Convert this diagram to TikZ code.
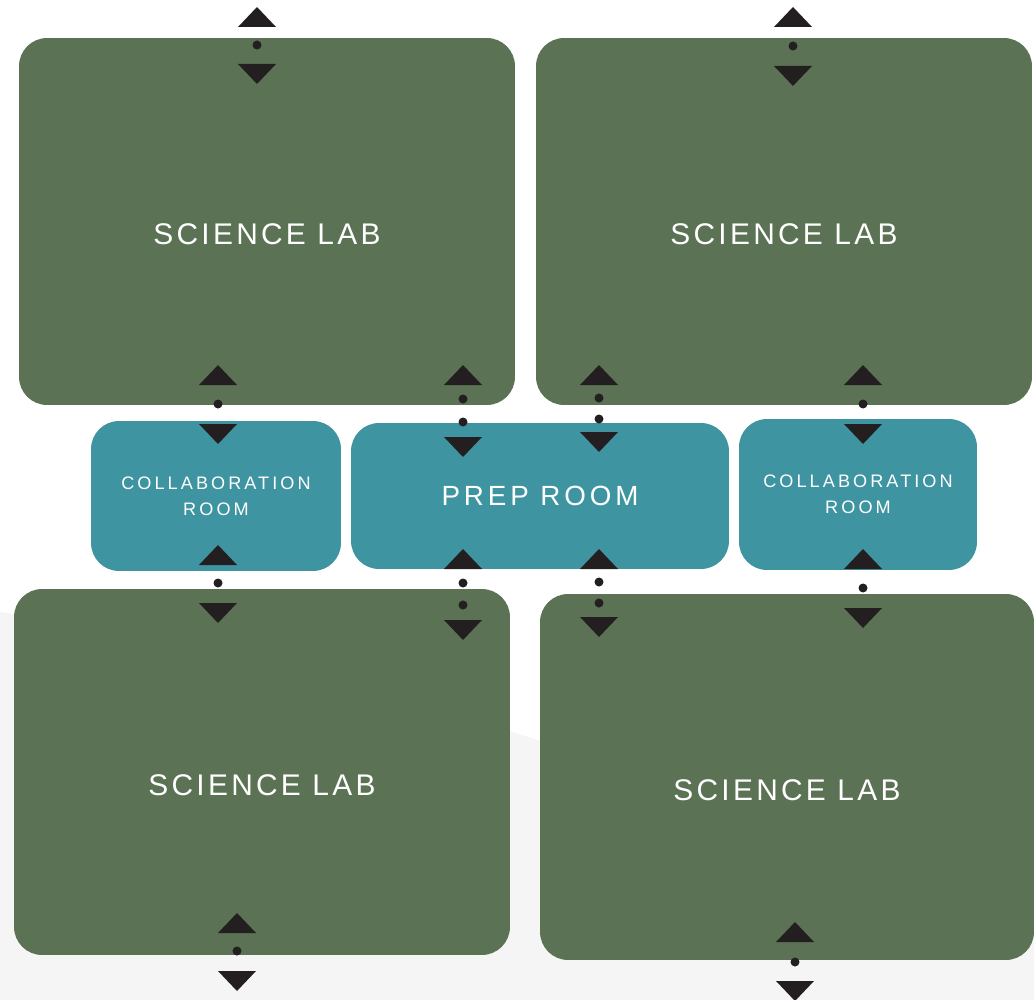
\documentclass[tikz,border=0pt]{standalone}
\usepackage{fontspec}
\newfontfamily\labfont[LetterSpace=11]{Liberation Sans}
\newfontfamily\roomfont[LetterSpace=14]{Liberation Sans}
\newfontfamily\collabfont[LetterSpace=17]{Liberation Sans}
\definecolor{LabGreen}{RGB}{91,114,84}
\definecolor{RoomTeal}{RGB}{63,148,161}
\definecolor{DoorDark}{RGB}{35,31,32}
\definecolor{FloorGray}{RGB}{245,245,245}
\tikzset{
  lab/.style={fill=LabGreen, rounded corners=0.56cm, minimum width=9.92cm, minimum height=7.34cm, inner sep=0pt},
  labtext/.style={text=white, font=\labfont\fontsize{17}{20}\selectfont, yshift=-0.26cm},
  room/.style={fill=RoomTeal, rounded corners=0.56cm, inner sep=0pt, text=white, align=center},
  collabtext/.style={font=\collabfont\fontsize{10.3}{14.7}\selectfont},
  doortri/.style={fill=DoorDark},
  doordot/.style={fill=DoorDark}
}

\begin{document}
\begin{tikzpicture}[x=0.02cm, y=-0.02cm]
  \useasboundingbox (0,0) rectangle (1034,1000);
  \fill[white] (0,0) rectangle (1034,1000);
  \fill[FloorGray] (0,612) .. controls (200,640) and (400,700) .. (500,728)
    .. controls (520,734) and (530,738) .. (545,742) -- (1034,765) -- (1034,1000) -- (0,1000) -- cycle;

  % labs
  \node[lab, label={[labtext]center:SCIENCE LAB}] (labNW) at (267,221.5) {};
  \node[lab, label={[labtext]center:SCIENCE LAB}] (labNE) at (784,221.5) {};
  \node[lab, minimum height=7.32cm, label={[labtext]center:SCIENCE LAB}] (labSW) at (262,772) {};
  \node[lab, minimum width=9.88cm, minimum height=7.32cm, label={[labtext]center:SCIENCE LAB}] (labSE) at (787,777) {};

  % middle row
  \node[room, collabtext, minimum width=5cm, minimum height=3cm] (collabW) at (216,496) {COLLABORATION\\ROOM};
  \node[room, minimum width=7.56cm, minimum height=2.92cm, font=\roomfont\fontsize{15.8}{19}\selectfont] (prep) at (540,496) {PREP ROOM};
  \node[room, collabtext, minimum width=4.76cm, minimum height=3.02cm] (collabE) at (858,494.5) {COLLABORATION\\ROOM};

  % doors, one dot
  \foreach \x/\ya/\yb/\yc in {257/27/45/64, 793/27/46/66, 218/385/404/424, 863/385/404/424,
      218/565/583/603, 863/569/588/608, 237/933/951/971, 795/942/962/981} {
    \fill[doortri] (\x-19,\ya) -- (\x+19,\ya) -- (\x,\ya-20) -- cycle;
    \fill[doordot] (\x,\yb) circle (0.09cm);
    \fill[doortri] (\x-19,\yc) -- (\x+19,\yc) -- (\x,\yc+20) -- cycle;
  }
  % doors, two dots
  \foreach \x/\ya/\yb/\yc/\yd in {463/385/399/422/437, 599/385/398/419/432,
      463/569/583/605/620, 599/569/582/603/617} {
    \fill[doortri] (\x-19,\ya) -- (\x+19,\ya) -- (\x,\ya-20) -- cycle;
    \fill[doordot] (\x,\yb) circle (0.09cm);
    \fill[doordot] (\x,\yc) circle (0.09cm);
    \fill[doortri] (\x-19,\yd) -- (\x+19,\yd) -- (\x,\yd+20) -- cycle;
  }
\end{tikzpicture}
\end{document}
